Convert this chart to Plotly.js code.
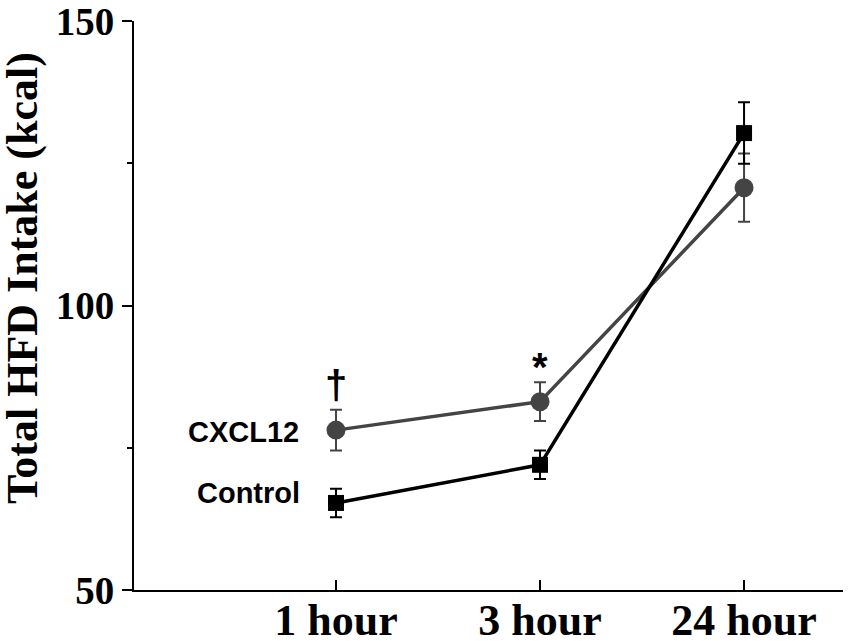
<!DOCTYPE html>
<html>
<head>
<meta charset="utf-8">
<script src="https://cdn.plot.ly/plotly-3.0.1.min.js"></script>
<style>
	html, body { margin: 0; padding: 0; background: #fff; }
	#graph { width: 850px; height: 641px; }
</style>
</head>
<body>
<div id="graph"></div>
<script>
const timepoints = ["1 hour", "3 hour", "24 hour"];

const controlMean = [65.3, 72.0, 130.3];
const controlErr = [2.5, 2.5, 5.4];

const cxclMean = [78.1, 83.1, 120.7];
const cxclErr = [3.6, 3.4, 6.0];

// significance marks above the CXCL12 points
const markText = ["\u2020", "*"];
const markIndex = [0, 1];
const markLevel = [86.0, 89.2];

const GRAY = "#444444";
const serif = "'Liberation Serif', 'Times New Roman', serif";
const sans = "'Liberation Sans', Arial, sans-serif";

const traces = [
	{
		x: timepoints,
		y: cxclMean,
		type: "scatter",
		mode: "lines+markers",
		line: { color: GRAY, width: 3.5 },
		marker: { symbol: "circle", size: 19, color: GRAY },
		error_y: { type: "data", array: cxclErr, color: GRAY, thickness: 2, width: 6 },
		cliponaxis: false,
	},
	{
		x: timepoints,
		y: controlMean,
		type: "scatter",
		mode: "lines+markers",
		line: { color: "#000", width: 3.5 },
		marker: { symbol: "square", size: 16, color: "#000" },
		error_y: { type: "data", array: controlErr, color: "#000", thickness: 2, width: 6 },
		cliponaxis: false,
	},
];

const annotations = [
	{
		x: -0.17, y: cxclMean[0] - 0.4, xref: "x", yref: "y",
		text: "<b>CXCL12</b>", showarrow: false, xanchor: "right", yanchor: "middle",
		font: { family: sans, size: 29, color: "#000" },
	},
	{
		x: -0.165, y: controlMean[0] + 1.7, xref: "x", yref: "y",
		text: "<b>Control</b>", showarrow: false, xanchor: "right", yanchor: "middle",
		font: { family: sans, size: 29, color: "#000" },
	},
	// y axis title, placed by hand
	{
		x: (22 - 134) / 709, y: (590 - 278) / 569, xref: "paper", yref: "paper",
		text: "<b>Total HFD Intake (kcal)</b>", showarrow: false, textangle: -90,
		xanchor: "center", yanchor: "middle",
		font: { family: serif, size: 44, color: "#000" },
	},
];

markIndex.forEach((i, k) => {
	annotations.push({
		x: i, y: markLevel[k], xref: "x", yref: "y",
		text: "<b>" + markText[k] + "</b>", showarrow: false,
		xanchor: "center", yanchor: "middle",
		font: { family: sans, size: 40, color: "#000" },
	});
});

const layout = {
	width: 850,
	height: 641,
	margin: { l: 134, r: 7, t: 21, b: 51 },
	paper_bgcolor: "#fff",
	plot_bgcolor: "#fff",
	showlegend: false,
	xaxis: {
		type: "category",
		range: [-0.99, 2.485],
		showgrid: false,
		zeroline: false,
		showline: true,
		linecolor: "#000",
		linewidth: 2,
		ticks: "inside",
		ticklen: 10,
		tickwidth: 2,
		tickcolor: "#000",
		tickfont: { family: serif, size: 44, color: "#000", weight: "bold" },
		ticklabelstandoff: -10,
		ticklabeloverflow: "allow",
		tickvals: timepoints,
		ticktext: timepoints,
	},
	yaxis: {
		range: [50, 150],
		dtick: 50,
		showgrid: false,
		zeroline: false,
		showline: true,
		linecolor: "#000",
		linewidth: 2,
		ticks: "outside",
		ticklen: 10,
		tickwidth: 2,
		tickcolor: "#000",
		tickfont: { family: serif, size: 39, color: "#000", weight: "bold" },
		ticklabeloverflow: "allow",
		minor: { dtick: 25, ticks: "outside", ticklen: 5, tickwidth: 2, tickcolor: "#000", showgrid: false },
	},
	annotations: annotations,
};

Plotly.newPlot("graph", traces, layout, { displayModeBar: false, staticPlot: true });
</script>
</body>
</html>
